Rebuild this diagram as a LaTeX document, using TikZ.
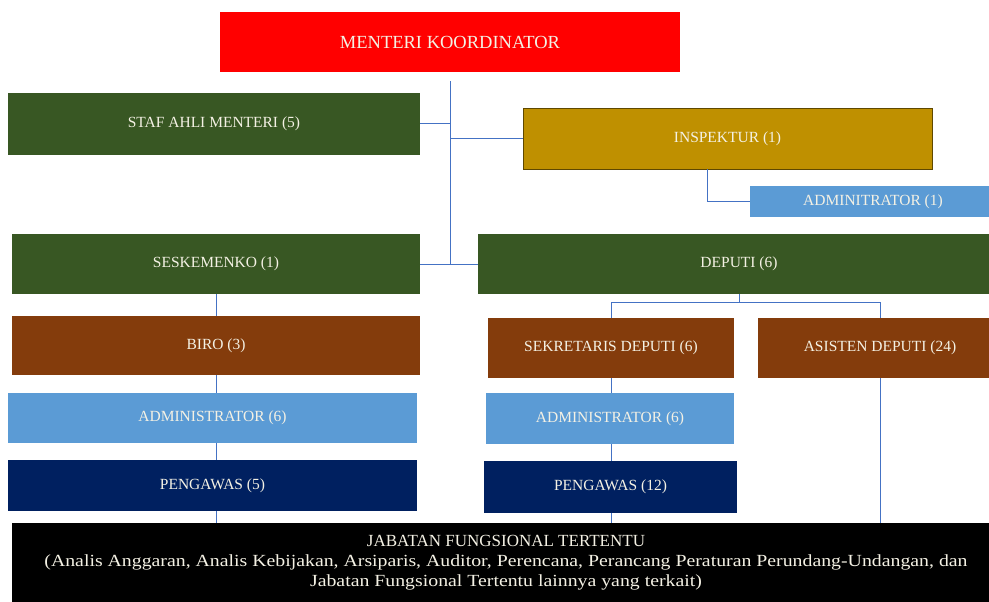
\documentclass[tikz,border=0pt]{standalone}
\usepackage{fontspec}
\setmainfont{Liberation Serif}
\newfontfamily\widefont[FakeStretch=1.165]{Liberation Serif}
\usetikzlibrary{calc,backgrounds}
\definecolor{cred}{HTML}{FF0000}
\definecolor{cgreen}{HTML}{385723}
\definecolor{cgold}{HTML}{BF9000}
\definecolor{clblue}{HTML}{5B9BD5}
\definecolor{cbrown}{HTML}{843C0C}
\definecolor{cnavy}{HTML}{002060}
\definecolor{cline}{HTML}{4472C4}
\definecolor{ctext}{HTML}{F4F1E4}
\begin{document}
\begin{tikzpicture}[x=1pt,y=-1pt,
  orgbox/.style={rectangle, inner sep=0pt, text=ctext, font=\fontsize{15.5}{18}\selectfont},
  conn/.style={draw=cline, line width=1pt}]
\useasboundingbox (0,0) rectangle (989,602);
% boxes
\node[orgbox, fill=cred, minimum width=460pt, minimum height=60pt, font=\fontsize{18.5}{22}\selectfont] (mk) at (450,42) {MENTERI KOORDINATOR};
\node[orgbox, fill=cgreen, minimum width=412pt, minimum height=62pt] (sa) at (214,124) {STAF AHLI MENTERI (5)};
\node[orgbox, fill=cgold, draw=cgold!50!black, line width=0.8pt, minimum width=409pt, minimum height=61pt] (ins) at (727.5,138.5) {INSPEKTUR (1)};
\node[orgbox, fill=clblue, minimum width=246pt, minimum height=31pt] (adm1) at (873,201.5) {ADMINITRATOR (1)};
\node[orgbox, fill=cgreen, minimum width=408pt, minimum height=60pt] (sk) at (216,264) {SESKEMENKO (1)};
\node[orgbox, fill=cgreen, minimum width=522pt, minimum height=60pt] (dep) at (739,264) {DEPUTI (6)};
\node[orgbox, fill=cbrown, minimum width=408pt, minimum height=59pt] (biro) at (216,345.5) {BIRO (3)};
\node[orgbox, fill=cbrown, minimum width=246pt, minimum height=60pt] (sek) at (611,348) {SEKRETARIS DEPUTI (6)};
\node[orgbox, fill=cbrown, minimum width=244pt, minimum height=60pt] (asis) at (880,348) {ASISTEN DEPUTI (24)};
\node[orgbox, fill=clblue, minimum width=409pt, minimum height=50pt] (admL) at (212.5,418) {ADMINISTRATOR (6)};
\node[orgbox, fill=cnavy, minimum width=409pt, minimum height=51pt] (penL) at (212.5,485.5) {PENGAWAS (5)};
\node[orgbox, fill=clblue, minimum width=248pt, minimum height=51pt] (admR) at (610,418.5) {ADMINISTRATOR (6)};
\node[orgbox, fill=cnavy, minimum width=253pt, minimum height=52pt] (penR) at (610.5,487) {PENGAWAS (12)};
\node[orgbox, fill=black, minimum width=988pt, minimum height=80pt, align=center, font=\fontsize{17}{20}\selectfont] (jf) at (506,563) {JABATAN FUNGSIONAL TERTENTU\\{\widefont(Analis Anggaran, Analis Kebijakan, Arsiparis, Auditor, Perencana, Perancang Peraturan Perundang-Undangan, dan}\\{\widefont Jabatan Fungsional Tertentu lainnya yang terkait)}};
% connectors
\draw[conn, shorten <=9pt] (mk.south) -- (mk.south |- sk.east);
\draw[conn] (sa.east) -- (sa.east -| mk.south);
\draw[conn] (ins.west) -- (ins.west -| mk.south);
\draw[conn] (sk.east) -- (dep.west);
\draw[conn] ($(ins.south west)+(185,0)$) |- (adm1.west);
\coordinate (dj) at ($(dep.south)+(0,8)$);
\draw[conn] (dep.south) -- (dj);
\draw[conn] (sek.north) |- (dj) -| (asis.north);
\begin{scope}[on background layer]
\fill[white] (0,0) rectangle (989,602);
\draw[conn] (sk.south) -- (sk.south |- jf.north);
\draw[conn] (sek.south) -- (sek.south |- jf.north);
\draw[conn] (asis.south) -- (asis.south |- jf.north);
\end{scope}
\end{tikzpicture}
\end{document}
